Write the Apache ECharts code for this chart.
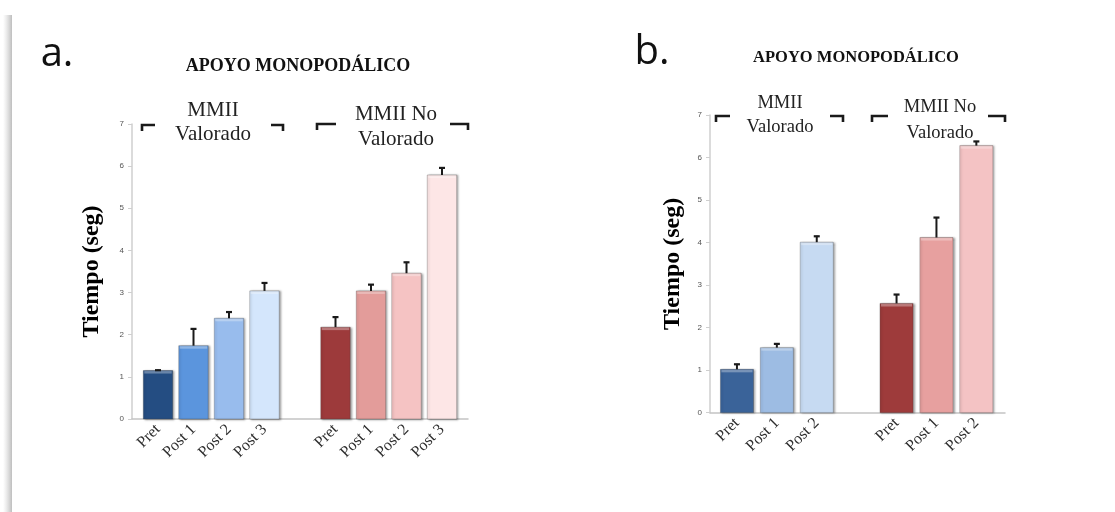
<!DOCTYPE html>
<html>
<head>
<meta charset="utf-8">
<script src="https://cdn.jsdelivr.net/npm/echarts@6/dist/echarts.min.js"></script>
<style>
  html, body { margin: 0; padding: 0; background: #ffffff; }
  #chart { width: 1115px; height: 512px; }
</style>
</head>
<body>
<div id="chart"></div>
<script>
// Tiempo de apoyo monopodálico (seg): media y error por momento de medida
const timepointsA = ['Pret', 'Post 1', 'Post 2', 'Post 3'];
const timepointsB = ['Pret', 'Post 1', 'Post 2'];

// Panel a
const valA_valorado   = [1.15, 1.74, 2.39, 3.04];
const errA_valorado   = [0.02, 0.41, 0.16, 0.20];
const valA_noValorado = [2.18, 3.04, 3.46, 5.79];
const errA_noValorado = [0.25, 0.16, 0.27, 0.18];

// Panel b
const valB_valorado   = [1.02, 1.53, 4.01];
const errB_valorado   = [0.13, 0.10, 0.15];
const valB_noValorado = [2.57, 4.12, 6.28];
const errB_noValorado = [0.22, 0.48, 0.11];

const groupLabels = { valorado: 'MMII\nValorado', noValorado: 'MMII No\nValorado' };
const titleText = 'APOYO MONOPODÁLICO';
const yName = 'Tiempo (seg)';

// Bar fills, one per time point
const blueA = ['#244d82', '#5b95dd', '#98bced', '#d4e6fc'];
const redA  = ['#9d3a3b', '#e39c9a', '#f5c3c3', '#fde6e6'];
const blueB = ['#3a6399', '#9dbce3', '#c6daf2'];
const redB  = ['#9e3b3b', '#e7a09f', '#f4c3c4'];

// Category list: left group, an empty spacer slot, right group
function categories(tp) { return tp.concat([''], tp); }

function items(vals1, errs1, cols1, vals2, errs2, cols2) {
  const out = [];
  vals1.forEach((v, i) => out.push({ value: [i, v, errs1[i]], itemStyle: { color: cols1[i] } }));
  const off = vals1.length + 1;
  vals2.forEach((v, i) => out.push({ value: [off + i, v, errs2[i]], itemStyle: { color: cols2[i] } }));
  return out;
}

const dataA = items(valA_valorado, errA_valorado, blueA, valA_noValorado, errA_noValorado, redA);
const dataB = items(valB_valorado, errB_valorado, blueB, valB_noValorado, errB_noValorado, redB);

function renderBar(params, api) {
  const x = api.value(0), v = api.value(1);
  const top = api.coord([x, v]);
  const base = api.coord([x, 0]);
  const w = api.size([1, 0])[0] * 0.83;
  const color = api.visual('color');
  return {
    type: 'group',
    children: [
      { type: 'rect',
        shape: { x: top[0] - w / 2, y: top[1], width: w, height: base[1] - top[1] },
        style: { fill: color, stroke: 'rgba(70,70,70,0.3)', lineWidth: 1,
                 shadowBlur: 2, shadowOffsetX: 1.5, shadowOffsetY: 0.5, shadowColor: 'rgba(0,0,0,0.35)' } },
      { type: 'rect',
        shape: { x: top[0] - w / 2 + 1, y: top[1] + 0.5, width: w - 2, height: 2.5 },
        style: { fill: 'rgba(255,255,255,0.32)' } }
    ]
  };
}

function renderErr(params, api) {
  const x = api.value(0), v = api.value(1), e = api.value(2);
  const p0 = api.coord([x, v]);
  const p1 = api.coord([x, v + e]);
  return {
    type: 'group',
    children: [
      { type: 'line', shape: { x1: p0[0], y1: p0[1], x2: p1[0], y2: p1[1] },
        style: { stroke: '#1a1a1a', lineWidth: 2 } },
      { type: 'line', shape: { x1: p1[0] - 3, y1: p1[1] + 0.5, x2: p1[0] + 3, y2: p1[1] + 0.5 },
        style: { stroke: '#1a1a1a', lineWidth: 2.2 } }
    ]
  };
}

const serif = 'Liberation Serif';

function frameY(nameGap) {
  return {
    type: 'value', min: 0, max: 7, interval: 1,
    axisLine: { show: true, lineStyle: { color: '#cfcfcf', width: 1.5 } },
    axisTick: { show: true, length: 4, lineStyle: { color: '#cfcfcf' } },
    axisLabel: { fontSize: 8, color: '#555', fontFamily: 'Liberation Sans', margin: 8 },
    splitLine: { show: false },
    name: yName, nameLocation: 'middle', nameGap: nameGap, nameRotate: 90,
    nameTextStyle: { fontFamily: serif, fontWeight: 'bold', fontSize: 24, color: '#000' }
  };
}
function frameX() {
  return {
    type: 'value', min: 0, max: 1,
    axisLine: { show: true, onZero: false, lineStyle: { color: '#c4c4c4', width: 1.5 } },
    axisTick: { show: false }, axisLabel: { show: false }, splitLine: { show: false }
  };
}
function plotX(cats, gi) {
  return {
    type: 'category', gridIndex: gi, data: cats,
    axisLine: { show: false }, axisTick: { show: false },
    axisLabel: { interval: 0, rotate: 45, margin: 8, fontFamily: serif, fontSize: 16, color: '#2e2e2e' }
  };
}
function plotY(gi) {
  return { type: 'value', gridIndex: gi, min: 0, max: 7, show: false };
}

function bracket(x1, x2, y, side) {
  // side: 'left' → hook hangs at the left end; 'right' → at the right end
  const hx = side === 'left' ? x1 : x2;
  const pts = side === 'left'
    ? [[hx, y + 6], [hx, y], [x2, y]]
    : [[x1, y], [hx, y], [hx, y + 6]];
  return { type: 'polyline', shape: { points: pts },
           style: { stroke: '#1a1a1a', lineWidth: 2.6, fill: null, lineJoin: 'miter' } };
}

function text(x, y, str, font, extra) {
  return Object.assign({
    type: 'text', x: x, y: y,
    style: Object.assign({ text: str, font: font, fill: '#111', align: 'center', verticalAlign: 'middle' }, extra || {})
  });
}

const chart = echarts.init(document.getElementById('chart'), null, { renderer: 'canvas' });

chart.setOption({
  backgroundColor: '#ffffff',
  animation: false,
  grid: [
    { left: 132, top: 124, width: 336, height: 295 },
    { left: 140.25, top: 124, width: 319.5, height: 295 },
    { left: 710, top: 115, width: 295, height: 297.7 },
    { left: 717, top: 115, width: 279.3, height: 297.7 }
  ],
  xAxis: [
    Object.assign(frameX(), { gridIndex: 0 }),
    plotX(categories(timepointsA), 1),
    Object.assign(frameX(), { gridIndex: 2 }),
    plotX(categories(timepointsB), 3)
  ],
  yAxis: [
    Object.assign(frameY(28), { gridIndex: 0 }),
    plotY(1),
    Object.assign(frameY(25), { gridIndex: 2 }),
    plotY(3)
  ],
  series: [
    { type: 'custom', xAxisIndex: 1, yAxisIndex: 1, renderItem: renderBar, data: dataA, z: 2 },
    { type: 'custom', xAxisIndex: 1, yAxisIndex: 1, renderItem: renderErr, data: dataA, z: 3 },
    { type: 'custom', xAxisIndex: 3, yAxisIndex: 3, renderItem: renderBar, data: dataB, z: 2 },
    { type: 'custom', xAxisIndex: 3, yAxisIndex: 3, renderItem: renderErr, data: dataB, z: 3 }
  ],
  graphic: [
    // soft page edge on the left
    { type: 'rect', shape: { x: 3, y: 15, width: 9, height: 497 },
      style: { fill: new echarts.graphic.LinearGradient(0, 0, 1, 0, [
        { offset: 0, color: 'rgba(210,210,210,0)' },
        { offset: 1, color: 'rgba(190,190,190,1)' } ]) } },

    text(57, 55, 'a.', '40px "Open Sans"', { fill: '#111' }),
    text(652, 53, 'b.', '40px "Open Sans"', { fill: '#111' }),

    text(298, 66, titleText, 'bold 18px "Liberation Serif"'),
    text(856, 58, titleText, 'bold 16.5px "Liberation Serif"'),

    text(213, 122, groupLabels.valorado, '21px "Liberation Serif"', { lineHeight: 24, fill: '#222' }),
    text(396, 127, groupLabels.noValorado, '21px "Liberation Serif"', { lineHeight: 25, fill: '#222' }),
    text(780, 115.5, groupLabels.valorado, '18.5px "Liberation Serif"', { lineHeight: 24, fill: '#222' }),
    text(940, 120, groupLabels.noValorado, '18.5px "Liberation Serif"', { lineHeight: 26, fill: '#222' }),

    bracket(142, 155, 125, 'left'),
    bracket(271, 283, 125, 'right'),
    bracket(317, 336, 124, 'left'),
    bracket(450, 468, 124, 'right'),
    bracket(716, 730, 116, 'left'),
    bracket(830, 843, 116, 'right'),
    bracket(872, 888, 116, 'left'),
    bracket(988, 1005, 116, 'right')
  ]
});
</script>
</body>
</html>
